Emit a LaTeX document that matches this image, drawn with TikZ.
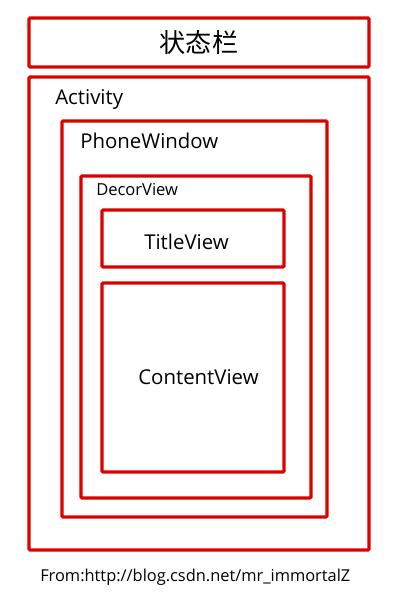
\documentclass[tikz,border=0pt]{standalone}
\usepackage{fontspec}
\setmainfont{Open Sans}
\newfontfamily\cjk{Noto Sans CJK SC}
\definecolor{boxred}{RGB}{220,0,0}
\begin{document}
\begin{tikzpicture}[x=0.75pt,y=-0.75pt,
  panel/.style={draw=boxred,line width=2.4pt,rounded corners=0.8pt},
  lbl/.style={inner sep=0pt,font=\fontsize{15.3}{18}\selectfont}]
\useasboundingbox (0,0) rectangle (408,603);
\draw[panel] (29,18) rectangle (369,67) node[pos=0.5,inner sep=0pt,font=\cjk\fontsize{19.6}{22}\selectfont] (status) {状态栏};
\draw[panel] (29,77) rectangle (369,550);
\draw[panel] (62,121) rectangle (327,517);
\draw[panel] (81,176) rectangle (311,498);
\draw[panel] (102,210) rectangle (284,267);
\draw[panel] (102,283) rectangle (284,472);
\node[lbl,anchor=west] (act) at (55,99) {Activity};
\node[lbl,anchor=west] (pw) at (80,141) {PhoneWindow};
\node[lbl,anchor=west,font=\fontsize{12.4}{14}\selectfont] (dv) at (96,189.5) {DecorView};
\node[lbl] (tv) at (186.5,242) {TitleView};
\node[lbl] (cv) at (198.5,377.5) {ContentView};
\node[lbl,anchor=west,font=\fontsize{12.3}{14}\selectfont] (from) at (40,577) {From:http://blog.csdn.net/mr\_immortalZ};
\end{tikzpicture}
\end{document}
